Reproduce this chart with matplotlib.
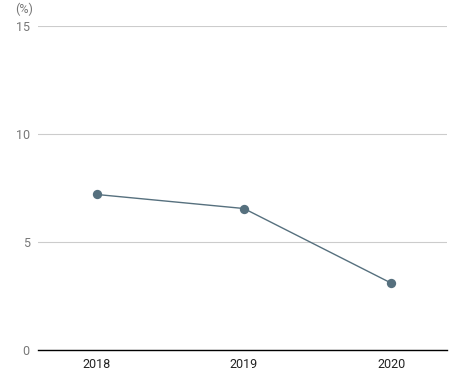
import matplotlib
matplotlib.use('Agg')
import matplotlib.pyplot as plt

years = ['2018', '2019', '2020']
values = [7.2, 6.55, 3.1]
y_ticks = [0, 5, 10, 15]

plt.rcParams['font.family'] = ['Roboto', 'DejaVu Sans']

fig = plt.figure(figsize=(4.5, 3.8), dpi=100)
ax = fig.add_axes([0.0844, 0.0789, 0.9089, 0.8527])

line_color = '#56707e'
x = range(len(years))
ax.plot(x, values, color=line_color, linewidth=1, zorder=3)
ax.scatter(x, values, s=45, color=line_color, zorder=4, linewidths=0)

ax.set_xlim(-0.4, 2.38)
ax.set_ylim(0, 15)
ax.set_xticks(list(x))
ax.set_xticklabels(years)
ax.set_yticks(y_ticks)

ax.grid(axis='y', color='#cccccc', linewidth=0.8)
ax.set_axisbelow(True)
for s in ['top', 'right', 'left']:
    ax.spines[s].set_visible(False)
ax.spines['bottom'].set_color('black')
ax.spines['bottom'].set_linewidth(1.0)
ax.spines['bottom'].set_zorder(5)

ax.tick_params(axis='x', length=0, labelsize=9, labelcolor='#222222', pad=6)
ax.tick_params(axis='y', length=0, labelsize=9, labelcolor='#777777', pad=6)

fig.text(0.033, 0.993, '(%)', fontsize=9, color='#777777', ha='left', va='top')

fig.savefig('out.png', dpi=100)
